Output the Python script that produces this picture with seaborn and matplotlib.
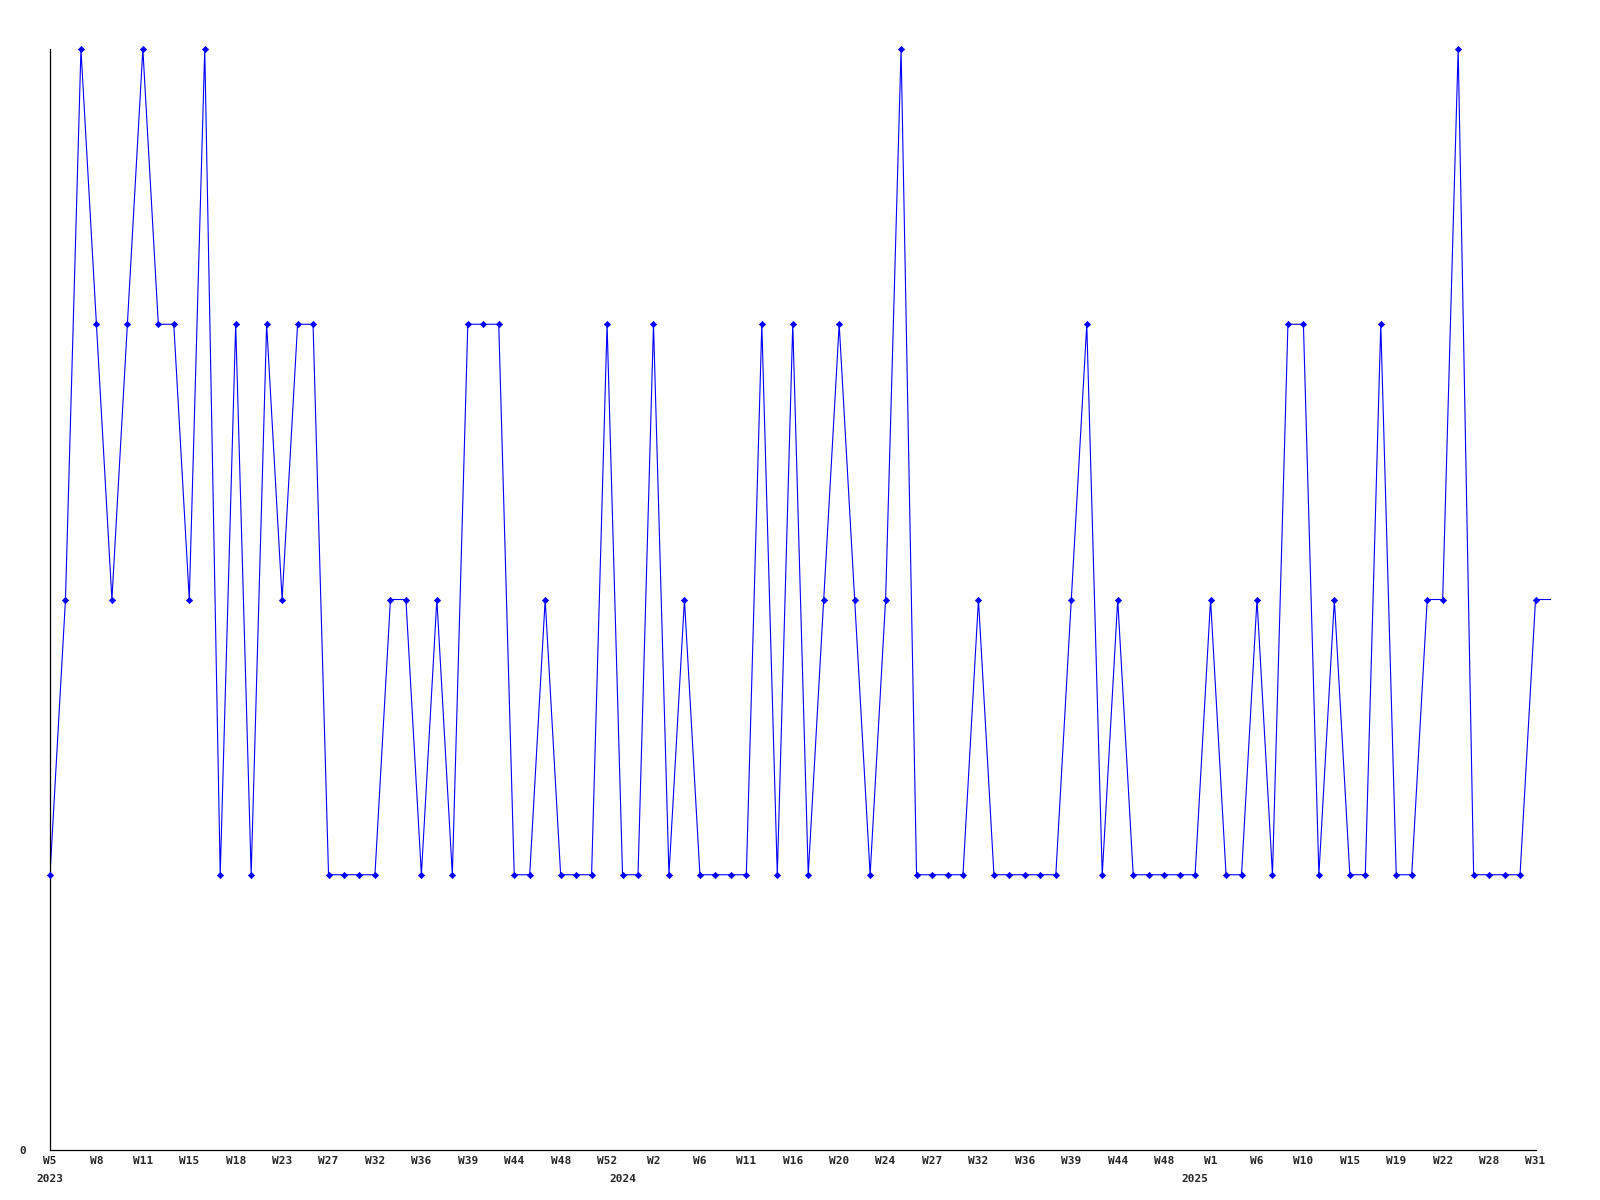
import numpy as np
import pandas as pd
from matplotlib import pyplot as plt
from matplotlib import transforms
import seaborn as sns

# weekly counts (one point per week that has data), last value is the trailing segment
counts = [1, 2, 4, 3, 2, 3, 4, 3, 3, 2, 4, 1, 3, 1, 3, 2, 3, 3, 1, 1,
          1, 1, 2, 2, 1, 2, 1, 3, 3, 3, 1, 1, 2, 1, 1, 1, 3, 1, 1, 3,
          1, 2, 1, 1, 1, 1, 3, 1, 3, 1, 2, 3, 2, 1, 2, 4, 1, 1, 1, 1,
          2, 1, 1, 1, 1, 1, 2, 3, 1, 2, 1, 1, 1, 1, 1, 2, 1, 1, 2, 1,
          3, 3, 1, 2, 1, 1, 3, 1, 1, 2, 2, 4, 1, 1, 1, 1, 2, 2]

week_labels = ['W5', 'W8', 'W11', 'W15', 'W18', 'W23', 'W27', 'W32', 'W36', 'W39', 'W44',
               'W48', 'W52', 'W2', 'W6', 'W11', 'W16', 'W20', 'W24', 'W27', 'W32', 'W36',
               'W39', 'W44', 'W48', 'W1', 'W6', 'W10', 'W15', 'W19', 'W22', 'W28', 'W31']
label_step = 3

years = ['2023', '2024', '2025']
year_idx = [0, 37, 74]

df = pd.DataFrame({'idx': np.arange(len(counts)), 'count': counts})
n_marked = len(counts) - 1
pts = df.iloc[:n_marked]

sns.set_style('white')
font = {'family': 'DejaVu Sans Mono', 'weight': 'bold', 'size': 8}

fig = plt.figure(figsize=(16, 12), dpi=100)
ax = fig.add_axes([50 / 1600, 1 - 1150 / 1200, (1551 - 50) / 1600, (1150 - 49) / 1200])

sns.lineplot(data=df, x='idx', y='count', ax=ax, color='#0000ff', linewidth=0.8)
sns.scatterplot(data=pts, x='idx', y='count', ax=ax, color='#0000ff', marker='D',
                s=10, edgecolor='#0000ff', linewidth=0.5, zorder=3, clip_on=False)

ax.set_xlim(0, len(counts) - 1)
ax.set_ylim(0, 4)
ax.set_xlabel('')
ax.set_ylabel('')

for s in ['top', 'right']:
    ax.spines[s].set_visible(False)
for s in ['left', 'bottom']:
    ax.spines[s].set_color('black')
    ax.spines[s].set_linewidth(0.9)
ax.spines['bottom'].set_bounds(0, n_marked - 1)

ax.set_xticks(range(0, len(week_labels) * label_step, label_step))
ax.set_xticklabels(week_labels, fontdict=font)
ax.tick_params(axis='x', length=0, pad=4)

# year labels under the first week of each year
trans = transforms.blended_transform_factory(ax.transData, ax.transAxes)
offset = transforms.ScaledTranslation(0, -17 / 72, fig.dpi_scale_trans)
for yr, i in zip(years, year_idx):
    ax.text(i, 0, yr, transform=trans + offset, ha='center', va='top', fontdict=font)

ax.set_yticks([0])
ax.set_yticklabels(['0'], fontdict=font)
ax.tick_params(axis='y', length=0, pad=17)
ax.grid(False)

fig.savefig('out.png', dpi=100, facecolor='white')
